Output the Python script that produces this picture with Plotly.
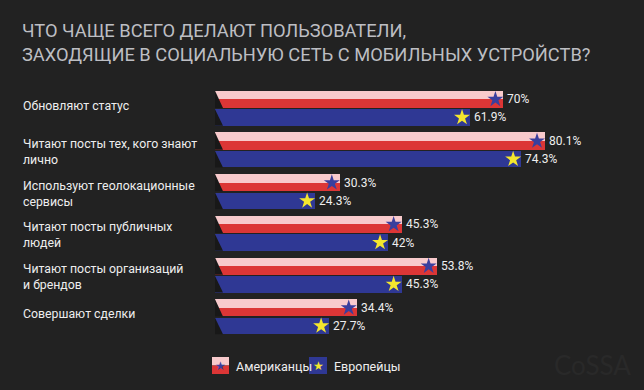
import plotly.graph_objects as go

# ---------------- data ----------------
categories = [
    "Обновляют статус",
    "Читают посты тех, кого знают<br>лично",
    "Используют геолокационные<br>сервисы",
    "Читают посты публичных<br>людей",
    "Читают посты организаций<br>и брендов",
    "Совершают сделки",
]
americans = [70, 80.1, 30.3, 45.3, 53.8, 34.4]
europeans = [61.9, 74.3, 24.3, 42, 45.3, 27.7]
series_names = ["Американцы", "Европейцы"]
title_lines = [
    "ЧТО ЧАЩЕ ВСЕГО ДЕЛАЮТ ПОЛЬЗОВАТЕЛИ,",
    "ЗАХОДЯЩИЕ В СОЦИАЛЬНУЮ СЕТЬ С МОБИЛЬНЫХ УСТРОЙСТВ?",
]
watermark = "CoSSA"

# ---------------- style ----------------
BG = "#222222"
PINK = "#F8CACC"
RED = "#DC3636"
BLUE = "#2F3894"
STAR_BLUE = "#3A3F9E"
STAR_YELLOW = "#F4E62E"
TEXT = "#EEEEEE"
TITLE = "#BDBEC3"
FONT = "Roboto, Liberation Sans, sans-serif"

W, H = 644, 390
L, R, T, B = 215, 627, 78, 341
UNIT_PX = 41.7          # pixels per category group
Y0_PX = 90.7            # pixel of group 0 top
X_MAX = 100

def px(x):
    return (x - L) / (R - L)

def py(y):
    return (B - y) / (B - T)

idx = list(range(len(categories)))
PINK_C, RED_C, HALF_W = 0.104, 0.311, 0.207
BLUE_C, BLUE_W = 0.642, 0.396
SLANT = 8 / ((R - L) / X_MAX)   # slanted left edge width, in x units
STAR_IN = 8 / ((R - L) / X_MAX)

fig = go.Figure()

fig.add_trace(go.Bar(orientation="h", x=americans, y=[i + PINK_C for i in idx],
                     width=HALF_W, base=0, marker=dict(color=PINK, line_width=0),
                     hoverinfo="skip", showlegend=False))
fig.add_trace(go.Bar(orientation="h", x=americans, y=[i + RED_C for i in idx],
                     width=HALF_W, base=0, marker=dict(color=RED, line_width=0),
                     name=series_names[0], showlegend=False))
fig.add_trace(go.Bar(orientation="h", x=europeans, y=[i + BLUE_C for i in idx],
                     width=BLUE_W, base=0, marker=dict(color=BLUE, line_width=0),
                     name=series_names[1], showlegend=False))

# stars at bar ends
fig.add_trace(go.Scatter(x=[v - STAR_IN for v in americans], y=[i + 0.207 for i in idx],
                         mode="markers", marker=dict(symbol="star", size=12, color=STAR_BLUE, line_width=0),
                         hoverinfo="skip", showlegend=False))
fig.add_trace(go.Scatter(x=[v - STAR_IN for v in europeans], y=[i + BLUE_C for i in idx],
                         mode="markers", marker=dict(symbol="star", size=12, color=STAR_YELLOW, line_width=0),
                         hoverinfo="skip", showlegend=False))

shapes = []
annotations = []

# slanted left edges
for i in idx:
    for top, bot in ((i, i + 2 * HALF_W), (i + BLUE_C - BLUE_W / 2, i + BLUE_C + BLUE_W / 2)):
        shapes.append(dict(type="path", xref="x", yref="y", layer="above",
                           path=f"M 0,{top} L {SLANT},{bot} L 0,{bot} Z",
                           fillcolor="#181818", line_width=0))

# value labels
for i in idx:
    for v, yc in ((americans[i], i + 0.207), (europeans[i], i + BLUE_C)):
        annotations.append(dict(x=v, y=yc, xref="x", yref="y", text=f"{v:g}%",
                                showarrow=False, xanchor="left", yanchor="middle", xshift=2,
                                font=dict(family=FONT, size=12, color=TEXT)))

# category labels
for i, cat in zip(idx, categories):
    n = len(cat.split("<br>"))
    o = 15.0 if n == 1 else 19.5
    annotations.append(dict(x=px(21), y=i + o / UNIT_PX, xref="paper", yref="y", text=cat,
                            showarrow=False, xanchor="left", yanchor="middle", align="left",
                            font=dict(family=FONT, size=12.3, color=TEXT)))

# title
for line, ypix in zip(title_lines, (31, 54)):
    annotations.append(dict(x=px(20), y=py(ypix), xref="paper", yref="paper", text=line,
                            showarrow=False, xanchor="left", yanchor="middle",
                            font=dict(family=FONT, size=18.3, color=TITLE)))

# legend
legend_items = [(series_names[0], 212, 229, "am"), (series_names[1], 309, 327, "eu")]
for name, x0, x1, kind in legend_items:
    if kind == "am":
        shapes.append(dict(type="rect", xref="paper", yref="paper", x0=px(x0), x1=px(x1),
                           y0=py(365.5), y1=py(357), fillcolor=PINK, line_width=0))
        shapes.append(dict(type="rect", xref="paper", yref="paper", x0=px(x0), x1=px(x1),
                           y0=py(374), y1=py(365.5), fillcolor=RED, line_width=0))
        star_col = STAR_BLUE
    else:
        shapes.append(dict(type="rect", xref="paper", yref="paper", x0=px(x0), x1=px(x1),
                           y0=py(374), y1=py(357), fillcolor=BLUE, line_width=0))
        star_col = STAR_YELLOW
    annotations.append(dict(x=px((x0 + x1) / 2), y=py(365.5), xref="paper", yref="paper",
                            text="★", showarrow=False, xanchor="center", yanchor="middle",
                            font=dict(family="DejaVu Sans", size=12, color=star_col)))
    annotations.append(dict(x=px(x1 + 5), y=py(366), xref="paper", yref="paper", text=name,
                            showarrow=False, xanchor="left", yanchor="middle",
                            font=dict(family=FONT, size=12.5, color=TEXT)))

# watermark
annotations.append(dict(x=px(592), y=py(365), xref="paper", yref="paper", text=watermark,
                        showarrow=False, xanchor="center", yanchor="middle",
                        font=dict(family="Lato, sans-serif", size=26, color="#292929")))

fig.update_layout(
    width=W, height=H,
    margin=dict(l=L, r=W - R, t=T, b=H - B, pad=0),
    paper_bgcolor=BG, plot_bgcolor=BG,
    barmode="overlay", bargap=0,
    xaxis=dict(range=[0, X_MAX], visible=False, fixedrange=True),
    yaxis=dict(range=[(B - Y0_PX) / UNIT_PX, -(Y0_PX - T) / UNIT_PX], visible=False, fixedrange=True),
    shapes=shapes, annotations=annotations,
    showlegend=False,
)

fig.write_html("out.html", config={"displayModeBar": False},
               post_script="document.body.style.margin='0px';document.body.style.overflow='hidden';")
